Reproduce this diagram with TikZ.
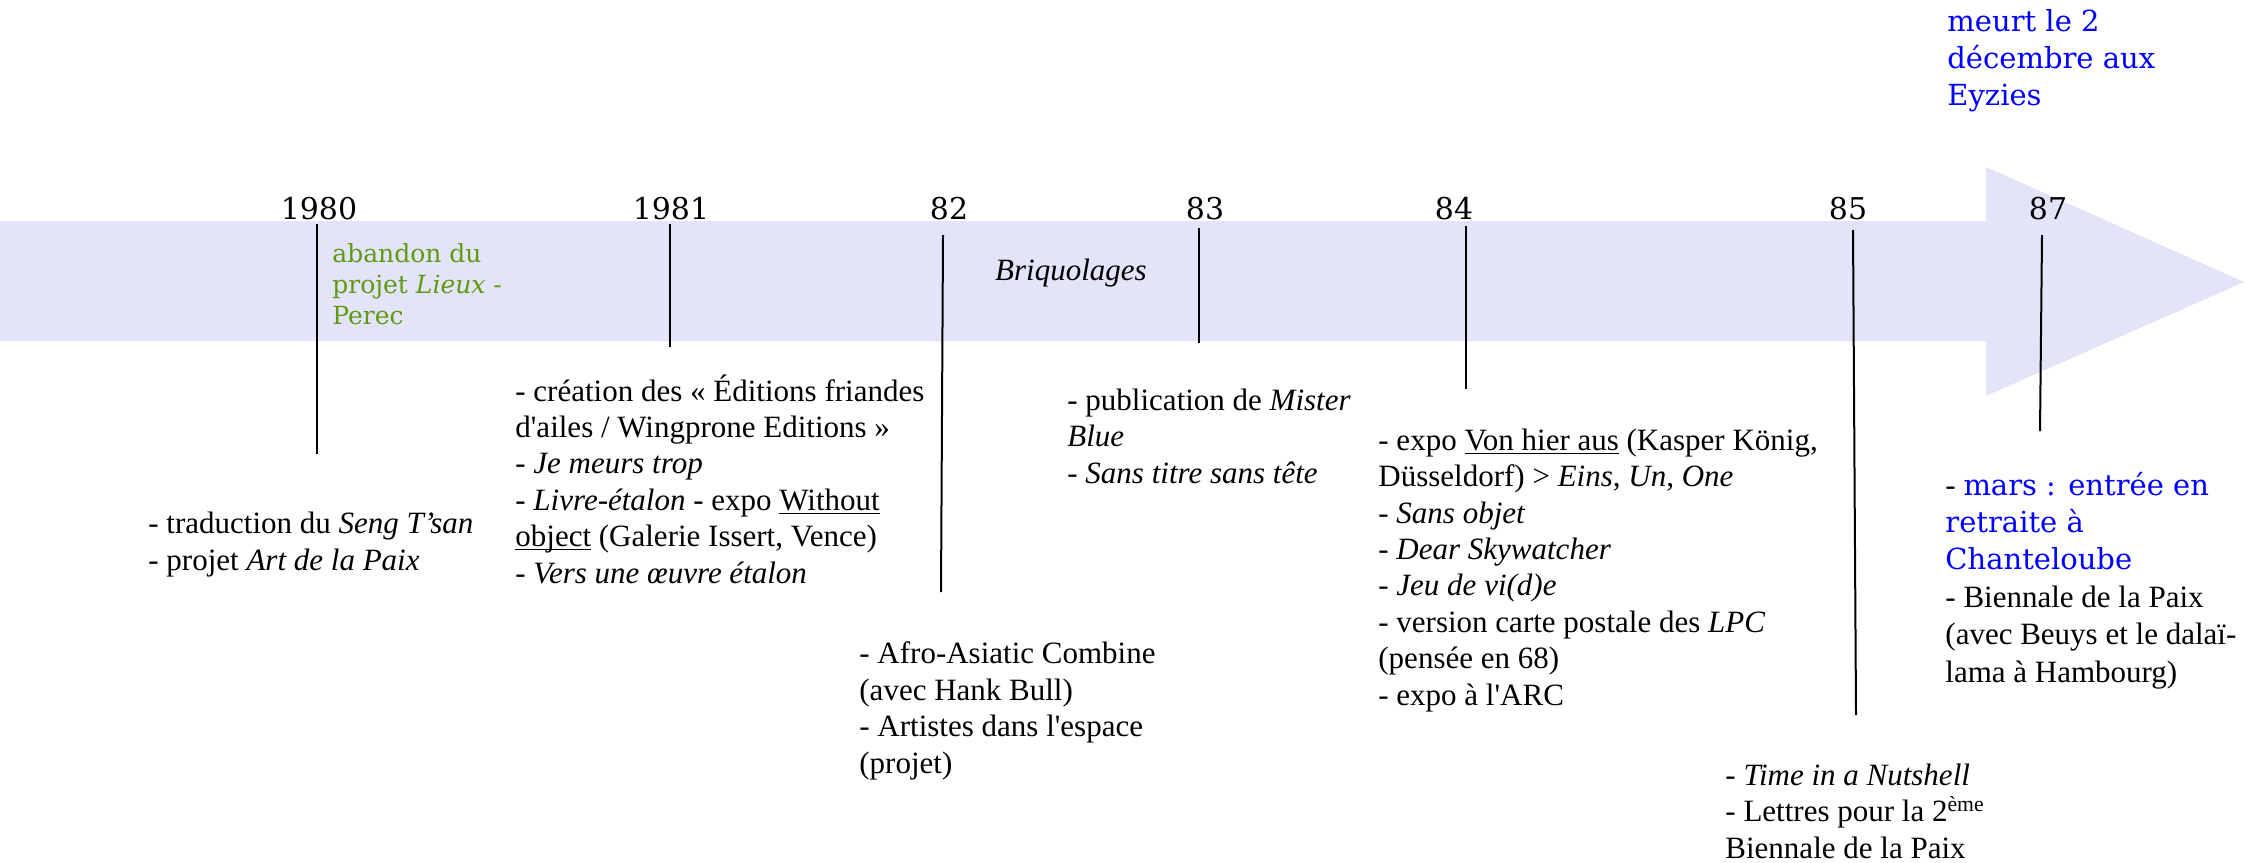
\documentclass[tikz,border=0pt]{standalone}
\usepackage{fontspec}
\setmainfont{Liberation Serif}
\newfontfamily\slabfont{DejaVu Serif}
\definecolor{bandlilac}{HTML}{E3E3FA}
\definecolor{notegreen}{HTML}{5E9B10}
\definecolor{noteblue}{HTML}{0000FF}
\newcommand{\bluetype}{\slabfont\fontsize{14.5}{18.5}\selectfont\color{noteblue}}
\newcommand{\exposhow}[1]{\underline{\smash{#1}}\vphantom{#1}}
\tikzset{
  yearlabel/.style={font=\slabfont\fontsize{15}{18}\selectfont, inner sep=0pt, anchor=base},
  eventtext/.style={font=\fontsize{15.5}{18.2}\selectfont, align=left,
    anchor=base west, inner sep=0pt},
  greennote/.style={font=\slabfont\fontsize{12.5}{15.5}\selectfont, text=notegreen,
    align=left, anchor=base west, inner sep=0pt},
  bluenote/.style={font=\slabfont\fontsize{14.5}{18.3}\selectfont, text=noteblue,
    align=left, anchor=base west, inner sep=0pt},
  yeartick/.style={draw=black, line width=1pt}
}

\begin{document}
\begin{tikzpicture}[x=0.5pt,y=-0.5pt]
  % timeline band, one unit = one pixel of the page; text nodes sit on their last baseline
  \useasboundingbox (0,0) rectangle (2246,862);
  \fill[bandlilac] (0,221) -- (1986,221) -- (1986,167) -- (2244,282)
    -- (1986,396) -- (1986,341) -- (0,341) -- cycle;

  \node[yearlabel] (y80) at (319,219) {1980};
  \node[yearlabel] (y81) at (671,219) {1981};
  \node[yearlabel] (y82) at (949,219) {82};
  \node[yearlabel] (y83) at (1205,219) {83};
  \node[yearlabel] (y84) at (1454,219) {84};
  \node[yearlabel] (y85) at (1848,219) {85};
  \node[yearlabel] (y87) at (2048,219) {87};

  \foreach \n/\xa/\ya/\xb/\yb in {80/317/224/317/454, 81/670/224/670/347,
      82/943/235/941/592, 83/1199/228/1199/343, 84/1466/226/1466/389,
      85/1853/230/1856/715, 87/2042/235/2040/431} {
    \coordinate (t\n top) at (\xa,\ya);
    \coordinate (t\n bot) at (\xb,\yb);
    \draw[yeartick] (t\n top) -- (t\n bot);
  }

  \node[greennote] (perec) at (332,324) {abandon du\\projet \textit{Lieux} -\\Perec};
  \node[eventtext, anchor=base] (briq) at (1071,280) {\textit{Briquolages}};
  \node[bluenote] (death) at (1947,105) {meurt le 2\\décembre aux\\Eyzies};

  \node[eventtext] (e80) at (148,570)
    {- traduction du \textit{Seng T’san}\\- projet \textit{Art de la Paix}};
  \node[eventtext] (e81) at (515,583)
    {- création des « Éditions friandes\\d\textquotesingle ailes / Wingprone Editions »\\- \textit{Je meurs trop}\\- \textit{Livre-étalon} - expo \exposhow{Without}\\\exposhow{object} (Galerie Issert, Vence)\\- \textit{Vers une œuvre étalon}};
  \node[eventtext] (e82) at (859,773)
    {- Afro-Asiatic Combine\\(avec Hank Bull)\\- Artistes dans l\textquotesingle espace\\(projet)};
  \node[eventtext] (e83) at (1067,483)
    {- publication de \textit{Mister}\\\textit{Blue}\\\textit{- Sans titre sans tête}};
  \node[eventtext] (e84) at (1378,705)
    {- expo \exposhow{Von hier aus} (Kasper König,\\Düsseldorf) > \textit{Eins}, \textit{Un}, \textit{One}\\\textit{- Sans objet}\\\textit{- Dear Skywatcher}\\\textit{- Jeu de vi(d)e}\\- version carte postale des \textit{LPC}\\(pensée en 68)\\- expo à l\textquotesingle ARC};
  \node[eventtext] (e85) at (1725,858)
    {- \textit{Time in a Nutshell}\\- Lettres pour la 2\textsuperscript{ème}\\Biennale de la Paix};
  \node[eventtext, font=\fontsize{15.5}{18.7}\selectfont] (e87) at (1945,682)
    {- {\bluetype mars : entrée en}\\{\bluetype retraite à}\\{\bluetype Chanteloube}\\- Biennale de la Paix\\(avec Beuys et le dalaï-\\lama à Hambourg)};
\end{tikzpicture}
\end{document}
